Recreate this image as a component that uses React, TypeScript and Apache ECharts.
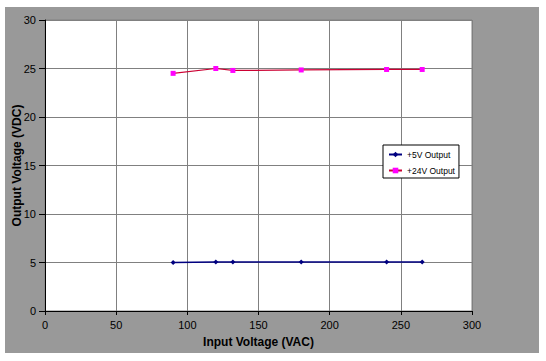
import React, { useEffect, useRef } from "react";
import * as echarts from "echarts";

const inputVoltage = [90, 120, 132, 180, 240, 265];
const out5V = [5.0, 5.05, 5.05, 5.05, 5.05, 5.05];
const out24V = [24.5, 25.0, 24.8, 24.85, 24.9, 24.9];
const seriesNames = ["+5V Output", "+24V Output"];

export default function App() {
  const ref = useRef<HTMLDivElement>(null);
  useEffect(() => {
    if (!ref.current) return;
    const chart = echarts.init(ref.current, null, { renderer: "svg" });
    const font = "Arial, 'Liberation Sans', sans-serif";
    chart.setOption({
      animation: false,
      backgroundColor: "#ffffff",
      textStyle: { fontFamily: font },
      graphic: [
        {
          type: "rect",
          z: -10,
          silent: true,
          shape: { x: 5, y: 7, width: 534, height: 346 },
          style: { fill: "#999999" },
        },
      ],
      grid: {
        left: 45,
        right: 74,
        top: 20,
        bottom: 50,
        containLabel: false,
        outerBoundsMode: "none",
        show: true,
        backgroundColor: "#ffffff",
        borderColor: "#808080",
        borderWidth: 1,
      },
      legend: {
        orient: "vertical",
        left: 383,
        top: 145,
        backgroundColor: "#ffffff",
        borderColor: "#000000",
        borderWidth: 1,
        borderRadius: 0,
        padding: [5, 4, 3, 5],
        itemGap: 7,
        itemWidth: 13,
        itemHeight: 7,
        textStyle: { fontSize: 8.5, color: "#000", fontFamily: font },
        data: seriesNames,
      },
      xAxis: {
        type: "value",
        min: 0,
        max: 300,
        interval: 50,
        name: "Input Voltage (VAC)",
        nameLocation: "middle",
        nameGap: 25,
        nameMoveOverlap: false,
        nameTextStyle: { fontSize: 12, fontWeight: "bold", color: "#000", fontFamily: font },
        axisLine: { show: true, lineStyle: { color: "#000", width: 1 } },
        axisTick: { show: true, length: 4, lineStyle: { color: "#000" } },
        axisLabel: { fontSize: 11, color: "#000", margin: 8, fontFamily: font },
        splitLine: { show: true, lineStyle: { color: "#808080", width: 1 } },
      },
      yAxis: {
        type: "value",
        min: 0,
        max: 30,
        interval: 5,
        name: "Output Voltage (VDC)",
        nameLocation: "middle",
        nameGap: 22,
        nameMoveOverlap: false,
        nameTextStyle: { fontSize: 12, fontWeight: "bold", color: "#000", fontFamily: font },
        axisLine: { show: true, lineStyle: { color: "#000", width: 1 } },
        axisTick: { show: true, length: 6, lineStyle: { color: "#000" } },
        axisLabel: { fontSize: 11, color: "#000", margin: 9, fontFamily: font },
        splitLine: { show: true, lineStyle: { color: "#808080", width: 1 } },
      },
      series: [
        {
          name: seriesNames[0],
          type: "line",
          data: inputVoltage.map((x, i) => [x, out5V[i]]),
          symbol: "diamond",
          symbolSize: 5,
          lineStyle: { color: "#000080", width: 1.5 },
          itemStyle: { color: "#000080" },
        },
        {
          name: seriesNames[1],
          type: "line",
          data: inputVoltage.map((x, i) => [x, out24V[i]]),
          symbol: "rect",
          symbolSize: 5,
          lineStyle: { color: "#cc0033", width: 1.2 },
          itemStyle: { color: "#ff00ff" },
        },
      ],
    });
    return () => chart.dispose();
  }, []);
  return (
    <div
      ref={ref}
      style={{ position: "fixed", left: 0, top: 0, width: 546, height: 361 }}
    />
  );
}
